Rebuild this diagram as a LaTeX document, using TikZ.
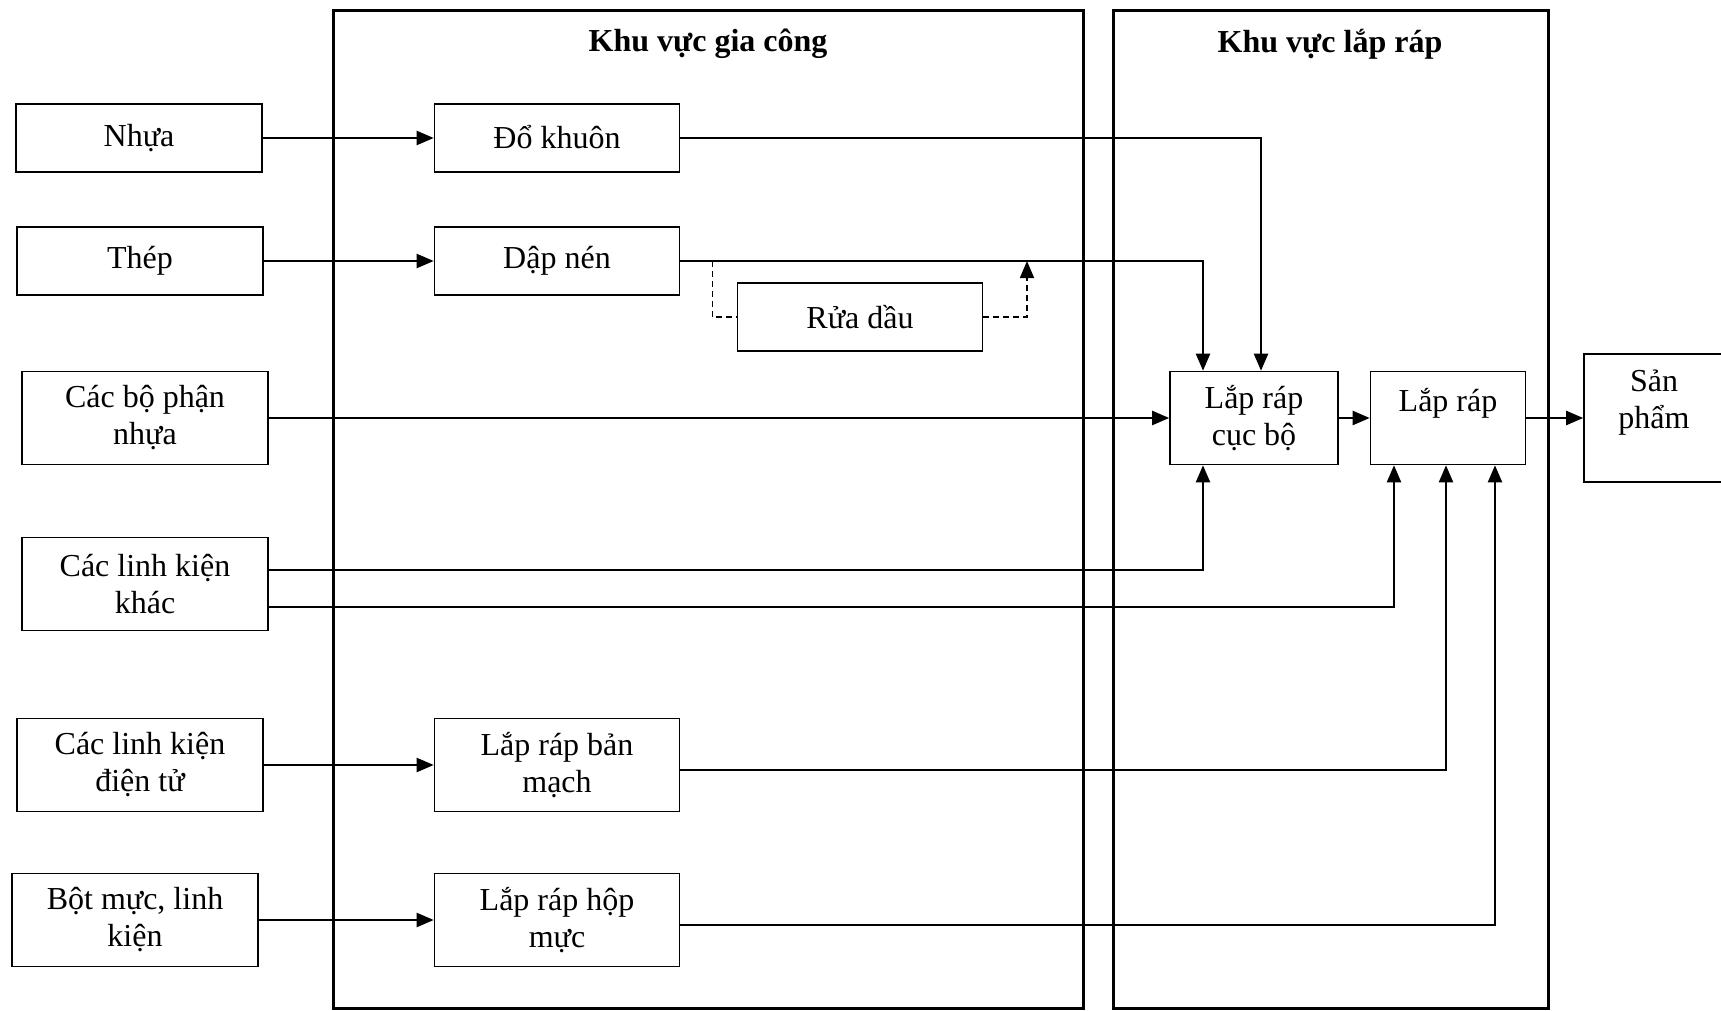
\documentclass[tikz,border=0pt]{standalone}
\usepackage{fontspec}
\setmainfont{Liberation Serif}
\usetikzlibrary{arrows.meta}
\tikzset{
  rawnode/.style={rectangle,draw,line width=0.8pt,minimum width=123pt,minimum height=34pt,inner sep=0pt,align=center,font=\fontsize{16}{18.5}\selectfont},
  stepbox/.style={rectangle,draw,line width=0.8pt,minimum width=122.5pt,minimum height=34pt,inner sep=0pt,align=center,font=\fontsize{16}{18.5}\selectfont},
  tall/.style={minimum height=46.5pt},
  zonebox/.style={draw,line width=1.5pt},
  zonetitle/.style={font=\bfseries\fontsize{16}{18.5}\selectfont},
  flow/.style={line width=1.1pt,-{Triangle[length=8.5pt,width=7pt]}},
  dashflow/.style={line width=0.8pt,dash pattern=on 3pt off 2pt},
  every picture/.style={line cap=butt,line join=miter}
}
\begin{document}
\begin{tikzpicture}[x=0.5pt,y=-0.5pt]
  \useasboundingbox (0,0) rectangle (1721,1011);
  \draw[zonebox] (333,11) rectangle (1083,1008);
  \draw[zonebox] (1113,11) rectangle (1548,1008);
  \node[zonetitle] (giacong) at (708,44) {Khu vực gia công};
  \node[zonetitle] (laprapzone) at (1330,44) {Khu vực lắp ráp};

  \node[rawnode] (nhua) at (139,138) {Nhựa};
  \node[rawnode] (thep) at (140,261) {Thép};
  \node[rawnode,tall] (bophan) at (145,418) {Các bộ phận\\nhựa};
  \node[rawnode,tall] (linhkien) at (145,584) {Các linh kiện\\khác};
  \node[rawnode,tall] (dientu) at (140,765) {Các linh kiện\\điện tử};
  \node[rawnode,tall] (botmuc) at (135,920) {Bột mực, linh\\kiện};

  \node[stepbox] (dokhuon) at (557,138) {\smash{Đổ} khuôn};
  \node[stepbox] (dapnen) at (557,261) {Dập nén};
  \node[stepbox] (ruadau) at (860,317) {Rửa dầu};
  \node[stepbox,tall] (banmach) at (557,765) {Lắp ráp bản\\mạch};
  \node[stepbox,tall] (hopmuc) at (557,920) {Lắp ráp hộp\\mực};

  \node[stepbox,tall,minimum width=84pt] (cucbo) at (1254,418) {Lắp ráp\\cục bộ};
  \node[stepbox,tall,minimum width=77.5pt] (laprap) at (1448,418) {Lắp ráp\\\mbox{}};
  \node[stepbox,minimum width=70pt,minimum height=64pt] (sanpham) at (1654,418) {Sản\\phẩm\\\mbox{}};

  \draw[flow] (nhua) -- (dokhuon);
  \draw[flow] (thep) -- (dapnen);
  \draw[flow] (dokhuon) -| ([xshift=3.5pt]cucbo.north);
  \draw[flow] (dapnen) -| ([xshift=-25.5pt]cucbo.north);
  \draw[dashflow] ([xshift=16pt]dapnen.east) |- (ruadau);
  \coordinate (rejoin) at (1027,261);
  \draw[dashflow,-{Triangle[length=8.5pt,width=7pt]}] (ruadau) -| (rejoin);
  \draw[flow] (bophan) -- (cucbo);
  \draw[flow] ([yshift=7pt]linhkien.east) -| ([xshift=-25.5pt]cucbo.south);
  \draw[flow] ([yshift=-11.5pt]linhkien.east) -| ([xshift=-27pt]laprap.south);
  \draw[flow] (cucbo) -- (laprap);
  \draw[flow] (laprap) -- (sanpham);
  \draw[flow] (dientu) -- (banmach);
  \draw[flow] ([yshift=-2.5pt]banmach.east) -| ([xshift=-1pt]laprap.south);
  \draw[flow] (botmuc) -- (hopmuc);
  \draw[flow] ([yshift=-2.5pt]hopmuc.east) -| ([xshift=23.5pt]laprap.south);
\end{tikzpicture}
\end{document}
